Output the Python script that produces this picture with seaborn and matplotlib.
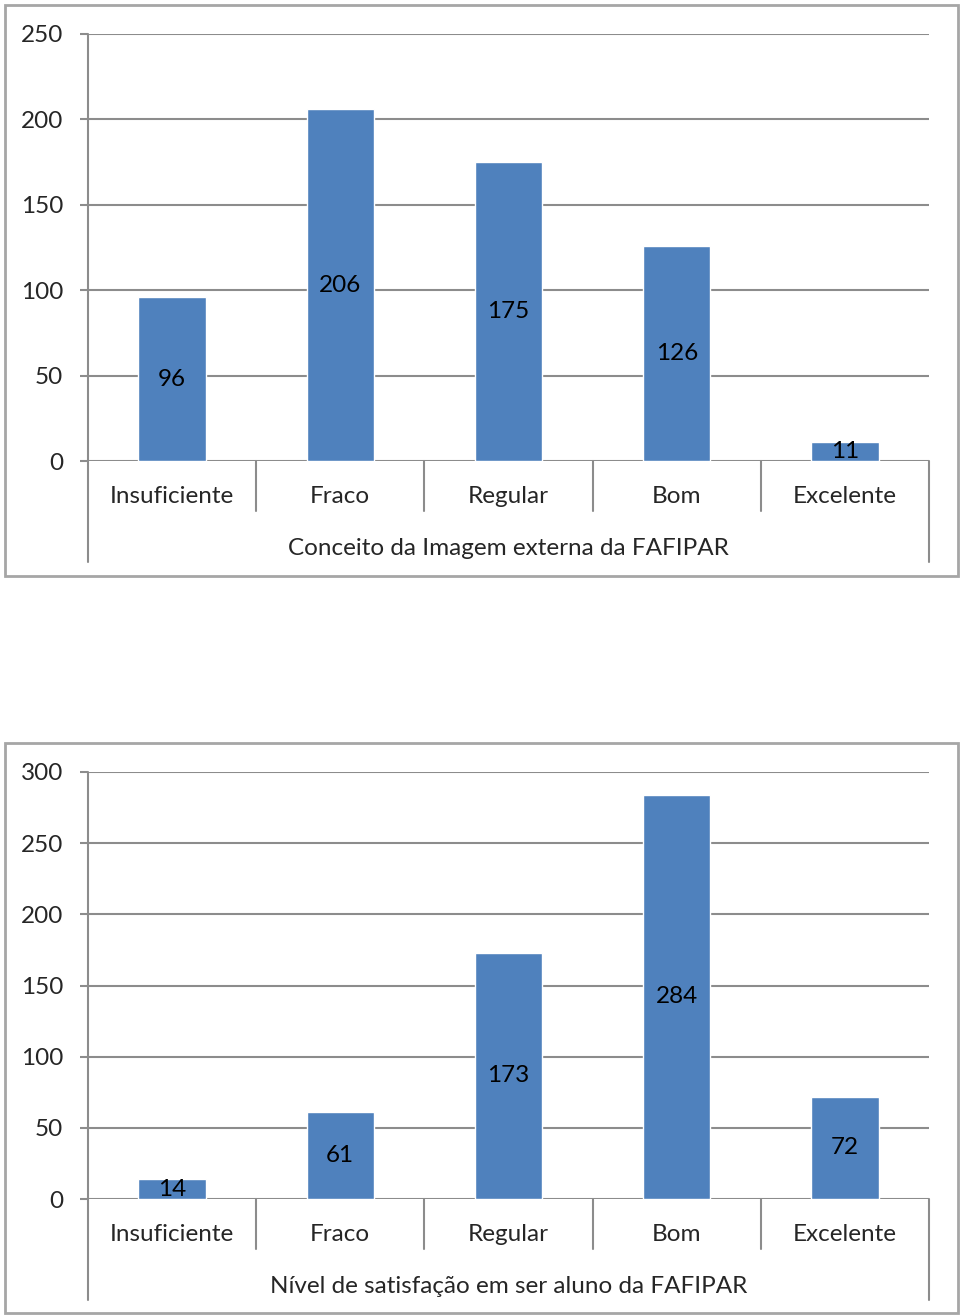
import matplotlib
matplotlib.use('Agg')
import matplotlib.pyplot as plt
import seaborn as sns
from matplotlib.patches import Rectangle

# Data
categories = ['Insuficiente', 'Fraco', 'Regular', 'Bom', 'Excelente']
imagem_externa = [96, 206, 175, 126, 11]
satisfacao = [14, 61, 173, 284, 72]
titles = ['Conceito da Imagem externa da FAFIPAR',
          'Nível de satisfação em ser aluno da FAFIPAR']
ymaxes = [250, 300]

sns.set_style('white')
plt.rcParams['font.family'] = ['Lato', 'DejaVu Sans']

W, H = 960, 1316
GREY = '#8c8c8c'
BLUE = '#4F81BD'
FS = 17.5

fig = plt.figure(figsize=(W / 100, H / 100), dpi=100)


def draw_chart(top_px, bottom_px, box, values, title, ymax):
    ax = fig.add_axes([88 / W, 1 - bottom_px / H, (929 - 88) / W, (bottom_px - top_px) / H])
    sns.barplot(x=categories, y=values, color=BLUE, saturation=1, width=0.4, ax=ax)
    ax.bar_label(ax.containers[0], label_type='center', fontsize=FS, color='black')
    ax.set_xlim(-0.5, len(categories) - 0.5)
    ax.set_ylim(0, ymax)
    ax.set_yticks(range(0, ymax + 1, 50))
    ax.yaxis.grid(True, color=GREY, linewidth=1.5)
    ax.set_axisbelow(True)
    for s in ax.spines.values():
        s.set_visible(False)
    ax.tick_params(axis='y', length=6, width=1.5, color=GREY, pad=12, labelsize=FS, left=True)
    ax.tick_params(axis='x', length=0, pad=18, labelsize=FS)
    ax.set_xlabel(title, fontsize=FS, labelpad=22)
    ax.set_ylabel('')

    h = bottom_px - top_px
    # left axis line running down past the category labels
    ax.plot([0, 0], [-101 / h, 1], transform=ax.transAxes, color=GREY, lw=1.5, clip_on=False)
    # category separators
    tr = ax.get_xaxis_transform()
    for i in range(len(categories)):
        x = i + 0.5
        low = -101 / h if i == len(categories) - 1 else -50 / h
        ax.plot([x, x], [low, 0], transform=tr, color=GREY, lw=1.5, clip_on=False)

    # outer chart border
    x0, y0, x1, y1 = box
    fig.patches.append(Rectangle((x0 / W, 1 - y1 / H), (x1 - x0) / W, (y1 - y0) / H,
                                 transform=fig.transFigure, fill=False,
                                 edgecolor='#a6a6a6', linewidth=2))
    return ax


draw_chart(34, 461, (5, 5, 958, 576), imagem_externa, titles[0], ymaxes[0])
draw_chart(772, 1199, (5, 743, 958, 1313), satisfacao, titles[1], ymaxes[1])

fig.savefig('out.png', dpi=100)
